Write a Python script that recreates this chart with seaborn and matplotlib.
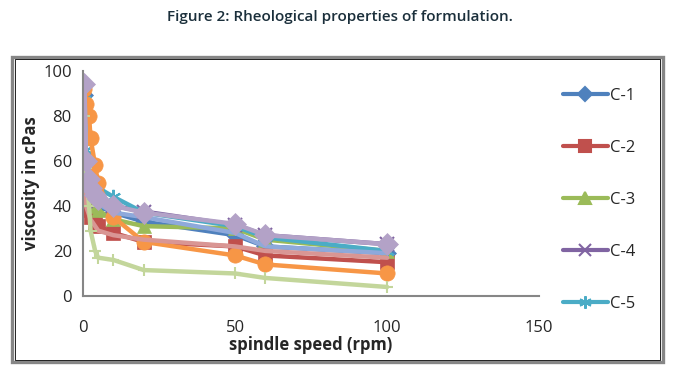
import matplotlib
matplotlib.use("Agg")
import matplotlib.pyplot as plt
import seaborn as sns
from matplotlib.lines import Line2D
from matplotlib.patches import Rectangle

sns.set_style("white")
plt.rcParams['font.family'] = ['Open Sans', 'DejaVu Sans']

# spindle speed (rpm)
speed = [0.5, 1, 2, 2.5, 4, 5, 10, 20, 50, 60, 100]

# viscosity in cPas for each formulation
c1 = [89, 60, 50, 46, 42, 40, 37, 33, 27, 22, 19]
c2 = [47, 42, 38, 35, 32, 31, 28, 24, 22, 18, 15]
c3 = [70, 55, 48, 44, 40, 38, 34, 31, 30, 25, 20]
c4 = [60, 55, 50, 47, 44, 42, 40, 37.5, 31.5, 27, 23]
c5 = [87, 65, 56, 52, 50, 48, 44, 37, 31, 26, 20]
c6 = [92, 85, 80, 70, 58, 50, 35, 24, 18, 14, 10]
c7 = [90, 62, 52, 47, 43, 41, 37, 35, 28, 22, 19]
c8 = [45, 40, 36, 34, 31, 29, 27, 25, 22, 20, 17]
c9 = [80, 57, 40, 29, 20, 17, 16, 11.5, 10, 8, 4]
c10 = [94, 60, 52, 48, 45, 43, 40, 37, 32, 27, 23]

labels = ['C-1', 'C-2', 'C-3', 'C-4', 'C-5', 'C-6', 'C-7', 'C-8', 'C-9', 'C-10']
series = [c1, c2, c3, c4, c5, c6, c7, c8, c9, c10]
colors = ['#4F81BD', '#C0504D', '#9BBB59', '#8064A2', '#4BACC6',
          '#F79646', '#8EA9DB', '#D99694', '#C3D69B', '#B3A2C7']
markers = ['D', 's', '^', 'x', (6, 2, 0), 'o', None, None, '+', 'D']
msizes = [9, 10, 10, 10, 11, 11, 0, 0, 9, 11]

fig = plt.figure(figsize=(6.8, 3.7), dpi=100)
ax = fig.add_axes([0.122, 0.2, 0.671, 0.609])

for lab, vals, col, mk, ms in zip(labels, series, colors, markers, msizes):
    kw = dict(color=col, linewidth=3.2, ax=ax, legend=False)
    if mk is not None:
        kw.update(marker=mk, markersize=ms, markeredgecolor=col,
                  markeredgewidth=1.5 if mk in ('x', '+') or isinstance(mk, tuple) else 0.5)
    sns.lineplot(x=speed, y=vals, **kw)

ax.set_xlim(0, 150)
ax.set_ylim(0, 100)
ax.set_xticks([0, 50, 100, 150])
ax.set_yticks([0, 20, 40, 60, 80, 100])
ax.tick_params(axis='both', labelsize=12, length=5, width=1.2, color='#868686',
               direction='out', pad=3)
ax.tick_params(axis='x', pad=12)
for s in ['top', 'right']:
    ax.spines[s].set_visible(False)
for s in ['left', 'bottom']:
    ax.spines[s].set_color('#868686')
    ax.spines[s].set_linewidth(1.5)
ax.set_xlabel('spindle speed (rpm)', fontsize=12, fontweight='bold', labelpad=0)
ax.set_ylabel('viscosity in cPas', fontsize=12, fontweight='bold', labelpad=2)

handles = []
for i in range(5):
    handles.append(Line2D([0], [0], color=colors[i], linewidth=3, marker=markers[i],
                          markersize=msizes[i] - 2, markeredgecolor=colors[i],
                          markeredgewidth=1.5))
fig.legend(handles, labels[:5], loc='upper left', bbox_to_anchor=(0.818, 0.781),
           frameon=False, fontsize=12, handlelength=2.7, handletextpad=0.1,
           labelspacing=2.16, borderaxespad=0)

fig.text(0.5, 0.953, 'Figure 2: Rheological properties of formulation.',
         ha='center', va='center', fontsize=11, fontweight='semibold', color='#1b2f3b')

fig.patches.append(Rectangle((0.0176, 0.0216), 0.957, 0.824, transform=fig.transFigure,
                             fill=False, edgecolor='#868686', linewidth=2.4))
fig.patches.append(Rectangle((0.0215, 0.0275), 0.949, 0.812, transform=fig.transFigure,
                             fill=False, edgecolor='black', linewidth=0.6))

fig.savefig('out.png', dpi=100)
